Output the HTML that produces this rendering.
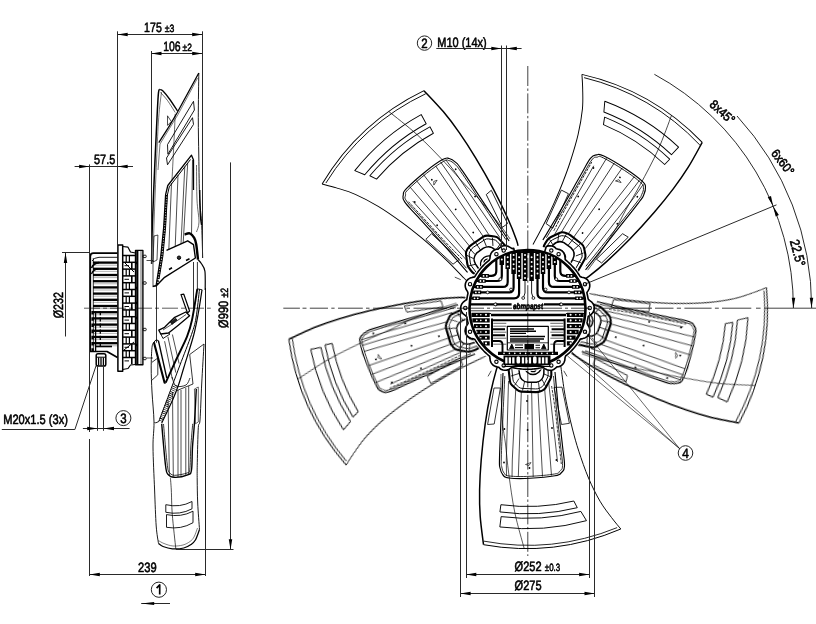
<!DOCTYPE html>
<html><head><meta charset="utf-8"><title>Fan drawing</title>
<style>html,body{margin:0;padding:0;background:#fff;overflow:hidden}svg{display:block}
text{font-family:"Liberation Sans",sans-serif;fill:#000;text-rendering:geometricPrecision}</style></head>
<body><svg width="816" height="624" viewBox="0 0 816 624" fill="none" stroke="#000" stroke-linecap="butt" stroke-linejoin="round">
<rect x="0" y="0" width="816" height="624" fill="#fff" stroke="none"/>
<g opacity="0.999">
<defs><g id="blade"><path d="M499.30 362.50 C498.82 363.68 497.82 364.68 496.40 369.60 C494.98 374.52 492.67 382.93 490.80 392.00 C488.93 401.07 486.80 412.67 485.20 424.00 C483.60 435.33 482.13 449.00 481.20 460.00 C480.27 471.00 479.77 480.60 479.60 490.00 C479.43 499.40 479.55 507.28 480.20 516.40 C480.85 525.52 482.95 539.98 483.50 544.70" stroke-width="1.5" />
<path d="M483.50 544.70 A240.5 240.5 0 0 0 620.80 529.00" stroke-width="1.0" />
<path d="M620.80 529.00 C619.25 527.08 614.97 522.13 611.50 517.50 C608.03 512.87 603.83 507.78 600.00 501.20 C596.17 494.62 592.03 486.33 588.50 478.00 C584.97 469.67 581.43 459.20 578.80 451.20 C576.17 443.20 574.50 436.87 572.70 430.00 C570.90 423.13 569.37 416.33 568.00 410.00 C566.63 403.67 565.62 398.73 564.50 392.00 C563.38 385.27 561.98 374.52 561.30 369.60 C560.62 364.68 560.55 363.68 560.40 362.50" stroke-width="0.95" />
<path d="M483.87 541.15 A237.20 237.20 0 0 0 617.12 527.62" stroke-width="0.85" />
<path d="M503.00 373.00 C502.60 382.40 501.70 403.00 501.00 420.00 C500.30 437.00 499.70 448.40 499.50 458.00 C499.30 467.60 499.30 464.60 500.00 468.00 C500.70 471.40 501.20 473.00 503.00 475.00 C504.80 477.00 503.60 477.34 509.00 478.00 C514.40 478.66 520.80 478.74 530.00 478.30 C539.20 477.86 548.70 476.96 555.00 475.80 C561.30 474.64 559.60 474.46 561.50 472.50 C563.40 470.54 564.30 471.30 564.50 466.00 C564.70 460.70 563.70 457.20 562.50 446.00 C561.30 434.80 560.00 424.80 558.50 410.00 C557.00 395.20 555.70 379.60 555.00 372.00" stroke-width="1.15" />
<path d="M504.80 376.00 C504.40 384.80 503.50 403.60 502.80 420.00 C502.10 436.40 501.50 448.60 501.30 458.00 C501.10 467.40 501.20 463.94 501.80 467.00 C502.40 470.06 502.76 471.50 504.30 473.30 C505.84 475.10 504.36 475.40 509.50 476.00 C514.64 476.60 521.00 476.70 530.00 476.30 C539.00 475.90 548.54 475.06 554.50 474.00 C560.46 472.94 558.20 472.70 559.80 471.00 C561.40 469.30 562.34 470.50 562.50 465.50 C562.66 460.50 561.78 457.10 560.60 446.00 C559.42 434.90 558.02 424.00 556.60 410.00 C555.18 396.00 554.12 382.80 553.50 376.00" stroke-width="0.8" />
<path d="M551.60 386.00 C552.20 390.00 553.92 400.00 555.20 410.00 C556.48 420.00 558.28 437.00 559.30 446.00 C560.32 455.00 560.97 461.00 561.30 464.00" stroke-width="0.8" stroke-dasharray="3 1"/>
<path d="M508.50 381.00 L506.30 460.00 L506.50 476.00" stroke-width="0.7" />
<path d="M515.70 390.00 L512.30 460.00 L512.00 477.00" stroke-width="0.7" />
<path d="M521.30 392.00 L518.30 477.00" stroke-width="0.7" />
<path d="M531.70 392.00 L533.20 477.00" stroke-width="0.7" />
<path d="M538.00 391.00 L542.50 476.50" stroke-width="0.7" />
<path d="M544.50 387.00 L551.50 475.50" stroke-width="0.7" />
<path d="M548.50 381.00 L557.50 462.00" stroke-width="0.7" />
<circle cx="504.0" cy="462.5" r="0.9" fill="#000" stroke="none"/>
<circle cx="556.4" cy="460.0" r="0.9" fill="#000" stroke="none"/>
<circle cx="527.6" cy="430.0" r="0.9" fill="#000" stroke="none"/>
<circle cx="552.0" cy="428.0" r="0.9" fill="#000" stroke="none"/>
<circle cx="527.0" cy="401.0" r="0.9" fill="#000" stroke="none"/>
<circle cx="504.4" cy="429.0" r="0.9" fill="#000" stroke="none"/>
<circle cx="529.5" cy="468.0" r="0.9" fill="#000" stroke="none"/>
<path d="M525.5 464.5 L531 462.5 L529 465.5 Z" stroke-width="0.6" />
<path d="M500.90 504.71 A198.50 198.50 0 0 0 573.84 501.02 L577.29 507.69 A205.80 205.80 0 0 1 499.93 511.94 Z" stroke-width="0.95" />
<path d="M501.14 516.64 A210.30 210.30 0 0 0 580.87 511.42 L586.48 520.67 A220.70 220.70 0 0 1 499.84 526.96 Z" stroke-width="0.95" />
<path d="M501.00 374.00 C501.00 376.83 500.73 382.83 501.00 391.00 C501.27 399.17 501.85 414.17 502.60 423.00 C503.35 431.83 504.47 435.50 505.50 444.00 C506.53 452.50 507.25 462.58 508.80 474.00 C510.35 485.42 512.23 500.08 514.80 512.50 C517.37 524.92 522.63 542.50 524.20 548.50" stroke-width="0.65" />
<path d="M494.00 388.00 L500.40 388.00 L494.20 424.00 L487.60 424.50 L494.00 388.00" stroke-width="0.8" />
<path d="M554.00 387.40 L562.00 387.20 L569.40 423.30 L561.50 424.50 L554.00 387.40" stroke-width="0.8" />
<path d="M507.60 362.00 L507.90 364.00 Q508.20 366.00 508.48 368.48 L509.92 381.02 Q510.20 383.50 512.03 385.20 L516.97 389.80 Q518.80 391.50 521.30 391.59 L535.70 392.11 Q538.20 392.20 540.53 391.29 L542.27 390.61 Q544.60 389.70 545.78 387.50 L550.22 379.20 Q551.40 377.00 551.34 374.50 L551.26 371.30 Q551.20 368.80 550.14 366.54 L548.00 362.00" stroke-width="2.1" fill="#fff"/>
<path d="M511.50 366.00 L512.99 379.81 Q513.20 381.80 514.65 383.18 L518.55 386.92 Q520.00 388.30 522.00 388.38 L535.50 388.92 Q537.50 389.00 539.34 388.21 L540.76 387.59 Q542.60 386.80 543.54 385.04 L547.26 378.06 Q548.20 376.30 548.16 374.30 L548.00 366.00" stroke-width="0.9" />
<path d="M518.5 366 L519.5 374 Q520.5 381.5 528 382.3 L536.5 382.3 Q543 381 543.8 374 L544 366" stroke-width="1.5" />
<path d="M524.5 366 A8.5 8.5 0 0 0 541.5 366" stroke-width="1.3" />
<circle cx="533.2" cy="369" r="2.7" stroke-width="1.3"/>
<path d="M514.5 385.5 L519 378.5 M522.5 390.5 L524.5 382 M531 391.5 L531.5 382.5 M539.5 391 L538.5 382.3 M546 387 L542 379.5 M550 376.5 L544 374 M511 376 L519 373.5" stroke-width="0.8" /></g></defs>
<use href="#blade" transform="rotate(0 527.5 308.0)"/>
<use href="#blade" transform="rotate(-72 527.5 308.0)"/>
<use href="#blade" transform="rotate(-144 527.5 308.0)"/>
<use href="#blade" transform="rotate(-216 527.5 308.0)"/>
<use href="#blade" transform="rotate(-288 527.5 308.0)"/>
<circle cx="527.5" cy="308.0" r="63" fill="#fff" stroke="none"/>
<path d="M544.46 252.53 L546.29 246.54 L548.29 245.88 L550.18 245.69 L551.95 245.92 L553.59 246.53 L555.07 247.50 L556.35 248.84 L558.12 249.19 L559.85 249.64 L561.39 250.46 L562.73 251.62 L563.83 253.11 L564.63 254.97 L565.04 257.27 L565.24 259.69 L566.49 260.70 L567.72 261.74 L568.91 262.80 L570.08 263.90 L571.22 265.03 L572.33 266.19 L573.41 267.38 L574.46 268.60 L575.47 269.84 L576.46 271.11 L577.41 272.40 L578.32 273.72 L579.20 275.06 L580.04 276.43 L581.78 277.29 L584.24 277.83 L586.13 278.77 L587.59 279.98 L588.69 281.39 L589.42 282.98 L589.77 284.72 L589.73 286.57 L589.24 288.53 L588.16 290.61 L586.85 292.65 L587.23 294.21 L587.57 295.78 L587.87 297.36 L588.13 298.94 L589.40 300.40 L591.47 301.84 L592.85 303.43 L593.74 305.11 L594.21 306.84 L594.28 308.58 L593.94 310.32 L593.20 312.02 L591.99 313.64 L590.20 315.14 L588.20 316.53 L587.96 318.12 L587.67 319.70 L587.35 321.27 L586.98 322.83 L587.60 324.67 L588.96 326.79 L589.62 328.79 L589.81 330.68 L589.58 332.45 L588.97 334.09 L588.00 335.57 L586.66 336.85 L584.92 337.89 L582.70 338.60 L580.32 339.11 L579.49 340.48 L578.62 341.83 L577.71 343.16 L576.78 344.46 L575.81 345.74 L574.80 346.99 L573.76 348.22 L572.70 349.41 L571.60 350.58 L570.47 351.72 L569.31 352.83 L568.12 353.91 L566.90 354.96 L565.66 355.97 L565.03 357.81 L564.82 360.32 L564.13 362.31 L563.13 363.92 L561.86 365.19 L560.38 366.12 L558.71 366.70 L556.87 366.90 L555.52 368.09 L554.11 369.19 L552.52 369.92 L550.78 370.27 L548.93 370.23 L546.97 369.74 L544.89 368.66 L542.85 367.35 L541.29 367.73 L539.72 368.07 L538.14 368.37 L536.56 368.63 L534.97 368.84 L533.38 369.02 L531.78 369.15 L530.17 369.24 L528.57 369.29 L526.97 369.30 L525.36 369.26 L523.76 369.19 L522.16 369.07 L520.56 368.91 L518.97 368.70 L517.38 368.46 L515.80 368.17 L514.23 367.85 L512.67 367.48 L510.83 368.10 L508.71 369.46 L506.71 370.12 L504.82 370.31 L503.05 370.08 L501.41 369.47 L499.93 368.50 L498.65 367.16 L496.88 366.81 L495.15 366.36 L493.61 365.54 L492.27 364.38 L491.17 362.89 L490.37 361.03 L489.96 358.73 L489.76 356.31 L488.51 355.30 L487.28 354.26 L486.09 353.20 L484.92 352.10 L483.78 350.97 L482.67 349.81 L481.59 348.62 L480.54 347.40 L479.53 346.16 L478.54 344.89 L477.59 343.60 L476.68 342.28 L475.80 340.94 L474.96 339.57 L473.22 338.71 L470.76 338.17 L468.87 337.23 L467.41 336.02 L466.31 334.61 L465.58 333.02 L465.23 331.28 L465.27 329.43 L465.76 327.47 L466.84 325.39 L468.15 323.35 L467.77 321.79 L467.43 320.22 L467.13 318.64 L466.87 317.06 L465.60 315.60 L463.53 314.16 L462.15 312.57 L461.26 310.89 L460.79 309.16 L460.72 307.42 L461.06 305.68 L461.80 303.98 L463.01 302.36 L464.80 300.86 L466.80 299.47 L467.04 297.88 L467.33 296.30 L467.65 294.73 L468.02 293.17 L467.40 291.33 L466.04 289.21 L465.38 287.21 L465.19 285.32 L465.42 283.55 L466.03 281.91 L467.00 280.43 L468.34 279.15 L470.08 278.11 L472.30 277.40 L474.68 276.89 L475.51 275.52 L476.38 274.17 L477.29 272.84 L478.22 271.54 L479.19 270.26 L480.20 269.01 L481.24 267.78 L482.30 266.59 L483.40 265.42 L484.53 264.28 L485.69 263.17 L486.88 262.09 L488.10 261.04 L489.34 260.03 L489.97 258.19 L490.18 255.68 L490.87 253.69 L491.87 252.08 L493.14 250.81 L494.62 249.88 L496.29 249.30 L498.13 249.10 L499.48 247.91 L500.89 246.81 L502.48 246.08 L504.22 245.73 L506.07 245.77 L508.03 246.26 L510.11 247.34 L512.15 248.65 L513.71 248.27 L514.45 251.49" stroke-width="1.6" fill="#fff"/>
<circle cx="584.97" cy="284.20" r="1.7" stroke-width="1.1"/>
<circle cx="551.30" cy="250.53" r="1.7" stroke-width="1.1"/>
<circle cx="503.70" cy="250.53" r="1.7" stroke-width="1.1"/>
<circle cx="470.03" cy="284.20" r="1.7" stroke-width="1.1"/>
<circle cx="470.03" cy="331.80" r="1.7" stroke-width="1.1"/>
<circle cx="503.70" cy="365.47" r="1.7" stroke-width="1.1"/>
<circle cx="551.30" cy="365.47" r="1.7" stroke-width="1.1"/>
<circle cx="584.97" cy="331.80" r="1.7" stroke-width="1.1"/>
<circle cx="589.70" cy="308.00" r="1.7" stroke-width="1.1"/>
<circle cx="558.60" cy="254.13" r="1.7" stroke-width="1.1"/>
<circle cx="496.40" cy="254.13" r="1.7" stroke-width="1.1"/>
<circle cx="465.30" cy="308.00" r="1.7" stroke-width="1.1"/>
<circle cx="496.40" cy="361.87" r="1.7" stroke-width="1.1"/>
<circle cx="558.60" cy="361.87" r="1.7" stroke-width="1.1"/>
<circle cx="527.5" cy="308.0" r="58" stroke-width="2.6"/>
<clipPath id="hubclip"><circle cx="527.5" cy="308.0" r="57.3"/></clipPath>
<g clip-path="url(#hubclip)">
<path d="M537.50 245 L537.50 293.30 Q537.50 298.30 542.50 298.30 L588.30 298.30" stroke-width="2.2" />
<path d="M582.67 298.30 L575.17 298.30" stroke-width="3.6" />
<circle cx="580.47" cy="298.30" r="0.9" fill="#fff" stroke="none"/>
<circle cx="577.27" cy="298.30" r="0.9" fill="#fff" stroke="none"/>
<path d="M543.00 245 L543.00 287.40 Q543.00 292.40 548.00 292.40 L588.30 292.40" stroke-width="2.2" />
<path d="M581.32 292.40 L573.82 292.40" stroke-width="3.6" />
<circle cx="579.12" cy="292.40" r="0.9" fill="#fff" stroke="none"/>
<circle cx="575.92" cy="292.40" r="0.9" fill="#fff" stroke="none"/>
<path d="M548.90 245 L548.90 281.90 Q548.90 286.90 553.90 286.90 L588.30 286.90" stroke-width="2.2" />
<path d="M579.45 286.90 L571.95 286.90" stroke-width="3.6" />
<circle cx="577.25" cy="286.90" r="0.9" fill="#fff" stroke="none"/>
<circle cx="574.05" cy="286.90" r="0.9" fill="#fff" stroke="none"/>
<path d="M554.80 245 L554.80 276.00 Q554.80 281.00 559.80 281.00 L588.30 281.00" stroke-width="2.2" />
<path d="M576.70 281.00 L569.20 281.00" stroke-width="3.6" />
<circle cx="574.50" cy="281.00" r="0.9" fill="#fff" stroke="none"/>
<circle cx="571.30" cy="281.00" r="0.9" fill="#fff" stroke="none"/>
<path d="M560.30 245 L560.30 270.90 Q560.30 275.90 565.30 275.90 L588.30 275.90" stroke-width="2.2" />
<path d="M573.60 275.90 L566.10 275.90" stroke-width="3.6" />
<circle cx="571.40" cy="275.90" r="0.9" fill="#fff" stroke="none"/>
<circle cx="568.20" cy="275.90" r="0.9" fill="#fff" stroke="none"/>
<path d="M531.60 279 L531.60 293 L533.10 297.5" stroke-width="0.9" />
<circle cx="533.40" cy="298" r="1.4" fill="#fff" stroke-width="0.8"/>
<path d="M519.10 245 L519.10 293.30 Q519.10 298.30 514.10 298.30 L468.30 298.30" stroke-width="2.2" />
<path d="M472.33 298.30 L479.83 298.30" stroke-width="3.6" />
<circle cx="474.53" cy="298.30" r="0.9" fill="#fff" stroke="none"/>
<circle cx="477.73" cy="298.30" r="0.9" fill="#fff" stroke="none"/>
<path d="M513.60 245 L513.60 287.40 Q513.60 292.40 508.60 292.40 L468.30 292.40" stroke-width="2.2" />
<path d="M473.68 292.40 L481.18 292.40" stroke-width="3.6" />
<circle cx="475.88" cy="292.40" r="0.9" fill="#fff" stroke="none"/>
<circle cx="479.08" cy="292.40" r="0.9" fill="#fff" stroke="none"/>
<path d="M507.70 245 L507.70 281.90 Q507.70 286.90 502.70 286.90 L468.30 286.90" stroke-width="2.2" />
<path d="M475.55 286.90 L483.05 286.90" stroke-width="3.6" />
<circle cx="477.75" cy="286.90" r="0.9" fill="#fff" stroke="none"/>
<circle cx="480.95" cy="286.90" r="0.9" fill="#fff" stroke="none"/>
<path d="M501.80 245 L501.80 276.00 Q501.80 281.00 496.80 281.00 L468.30 281.00" stroke-width="2.2" />
<path d="M478.30 281.00 L485.80 281.00" stroke-width="3.6" />
<circle cx="480.50" cy="281.00" r="0.9" fill="#fff" stroke="none"/>
<circle cx="483.70" cy="281.00" r="0.9" fill="#fff" stroke="none"/>
<path d="M496.30 245 L496.30 270.90 Q496.30 275.90 491.30 275.90 L468.30 275.90" stroke-width="2.2" />
<path d="M481.40 275.90 L488.90 275.90" stroke-width="3.6" />
<circle cx="483.60" cy="275.90" r="0.9" fill="#fff" stroke="none"/>
<circle cx="486.80" cy="275.90" r="0.9" fill="#fff" stroke="none"/>
<path d="M525.00 279 L525.00 293 L523.50 297.5" stroke-width="0.9" />
<circle cx="523.20" cy="298" r="1.4" fill="#fff" stroke-width="0.8"/>
<path d="M501.80 245 L501.80 265.0" stroke-width="4.5" />
<circle cx="501.80" cy="255.00" r="1.0" fill="#fff" stroke="none"/>
<circle cx="501.80" cy="259.60" r="1.0" fill="#fff" stroke="none"/>
<path d="M507.70 245 L507.70 269.0" stroke-width="4.5" />
<circle cx="507.70" cy="257.30" r="1.0" fill="#fff" stroke="none"/>
<circle cx="507.70" cy="261.90" r="1.0" fill="#fff" stroke="none"/>
<circle cx="507.70" cy="266.50" r="1.0" fill="#fff" stroke="none"/>
<path d="M513.60 245 L513.60 274.0" stroke-width="4.5" />
<circle cx="513.60" cy="255.00" r="1.0" fill="#fff" stroke="none"/>
<circle cx="513.60" cy="259.60" r="1.0" fill="#fff" stroke="none"/>
<circle cx="513.60" cy="264.20" r="1.0" fill="#fff" stroke="none"/>
<circle cx="513.60" cy="268.80" r="1.0" fill="#fff" stroke="none"/>
<path d="M519.10 245 L519.10 279.0" stroke-width="4.5" />
<circle cx="519.10" cy="257.30" r="1.0" fill="#fff" stroke="none"/>
<circle cx="519.10" cy="261.90" r="1.0" fill="#fff" stroke="none"/>
<circle cx="519.10" cy="266.50" r="1.0" fill="#fff" stroke="none"/>
<circle cx="519.10" cy="271.10" r="1.0" fill="#fff" stroke="none"/>
<circle cx="519.10" cy="275.70" r="1.0" fill="#fff" stroke="none"/>
<path d="M525.00 245 L525.00 281.0" stroke-width="4.5" />
<circle cx="525.00" cy="255.00" r="1.0" fill="#fff" stroke="none"/>
<circle cx="525.00" cy="259.60" r="1.0" fill="#fff" stroke="none"/>
<circle cx="525.00" cy="264.20" r="1.0" fill="#fff" stroke="none"/>
<circle cx="525.00" cy="268.80" r="1.0" fill="#fff" stroke="none"/>
<circle cx="525.00" cy="273.40" r="1.0" fill="#fff" stroke="none"/>
<circle cx="525.00" cy="278.00" r="1.0" fill="#fff" stroke="none"/>
<path d="M531.60 245 L531.60 281.0" stroke-width="4.5" />
<circle cx="531.60" cy="257.30" r="1.0" fill="#fff" stroke="none"/>
<circle cx="531.60" cy="261.90" r="1.0" fill="#fff" stroke="none"/>
<circle cx="531.60" cy="266.50" r="1.0" fill="#fff" stroke="none"/>
<circle cx="531.60" cy="271.10" r="1.0" fill="#fff" stroke="none"/>
<circle cx="531.60" cy="275.70" r="1.0" fill="#fff" stroke="none"/>
<path d="M537.50 245 L537.50 279.0" stroke-width="4.5" />
<circle cx="537.50" cy="255.00" r="1.0" fill="#fff" stroke="none"/>
<circle cx="537.50" cy="259.60" r="1.0" fill="#fff" stroke="none"/>
<circle cx="537.50" cy="264.20" r="1.0" fill="#fff" stroke="none"/>
<circle cx="537.50" cy="268.80" r="1.0" fill="#fff" stroke="none"/>
<circle cx="537.50" cy="273.40" r="1.0" fill="#fff" stroke="none"/>
<path d="M543.00 245 L543.00 274.0" stroke-width="4.5" />
<circle cx="543.00" cy="257.30" r="1.0" fill="#fff" stroke="none"/>
<circle cx="543.00" cy="261.90" r="1.0" fill="#fff" stroke="none"/>
<circle cx="543.00" cy="266.50" r="1.0" fill="#fff" stroke="none"/>
<circle cx="543.00" cy="271.10" r="1.0" fill="#fff" stroke="none"/>
<path d="M548.90 245 L548.90 269.0" stroke-width="4.5" />
<circle cx="548.90" cy="255.00" r="1.0" fill="#fff" stroke="none"/>
<circle cx="548.90" cy="259.60" r="1.0" fill="#fff" stroke="none"/>
<circle cx="548.90" cy="264.20" r="1.0" fill="#fff" stroke="none"/>
<path d="M554.80 245 L554.80 265.0" stroke-width="4.5" />
<circle cx="554.80" cy="257.30" r="1.0" fill="#fff" stroke="none"/>
<circle cx="554.80" cy="261.90" r="1.0" fill="#fff" stroke="none"/>
<path d="M500.30 251.5 L556.30 251.5" stroke-width="3.0" />
<circle cx="556.30" cy="279.20" r="1.4" fill="#fff" stroke-width="0.8"/>
<circle cx="545.60" cy="289.50" r="1.4" fill="#fff" stroke-width="0.8"/>
<circle cx="569.00" cy="292.40" r="1.4" fill="#fff" stroke-width="0.8"/>
<circle cx="560.70" cy="304.40" r="1.4" fill="#fff" stroke-width="0.8"/>
<circle cx="500.30" cy="279.20" r="1.4" fill="#fff" stroke-width="0.8"/>
<circle cx="511.00" cy="289.50" r="1.4" fill="#fff" stroke-width="0.8"/>
<circle cx="487.60" cy="292.40" r="1.4" fill="#fff" stroke-width="0.8"/>
<circle cx="495.90" cy="304.40" r="1.4" fill="#fff" stroke-width="0.8"/>
<path d="M470 304.4 L511.6 304.4 M544 304.4 L586 304.4" stroke-width="2.2" />
<circle cx="561.30" cy="304.4" r="1.4" fill="#fff" stroke-width="0.8"/>
<circle cx="495.30" cy="304.4" r="1.4" fill="#fff" stroke-width="0.8"/>
<text x="528" y="309.4" font-size="8.2" font-weight="bold" font-style="italic" text-anchor="middle" stroke="#000" stroke-width="0.7" textLength="30" lengthAdjust="spacingAndGlyphs">ebmpapst</text>
<path d="M470 310.8 L586 310.8" stroke-width="0.8" />
<path d="M491 315 L566 315" stroke-width="2.6" />
<path d="M472 313.6 L491 313.6 M566 313.6 L584 313.6" stroke-width="1.0" />
<path d="M492 320.3 L565 320.3" stroke-width="2.0" />
<path d="M564.60 318.5 L564.60 347" stroke-width="2.0" />
<path d="M564.60 329.2 L551.60 329.2 M564.60 335.3 L551.60 335.3" stroke-width="1.9" />
<path d="M564.60 341 L557.60 341 Q554.10 341 554.10 345 L554.10 352" stroke-width="1.9" />
<path d="M566.90 314.80 L583.59 314.80" stroke-width="4.3" />
<circle cx="570.60" cy="314.80" r="1.05" fill="#fff" stroke="none"/>
<circle cx="575.80" cy="314.80" r="0.8" fill="#fff" stroke="none"/>
<circle cx="579.80" cy="314.80" r="0.8" fill="#fff" stroke="none"/>
<path d="M566.90 320.40 L582.63 320.40" stroke-width="4.3" />
<circle cx="570.60" cy="320.40" r="1.05" fill="#fff" stroke="none"/>
<circle cx="575.80" cy="320.40" r="0.8" fill="#fff" stroke="none"/>
<circle cx="579.80" cy="320.40" r="0.8" fill="#fff" stroke="none"/>
<path d="M566.90 326.20 L581.02 326.20" stroke-width="4.3" />
<circle cx="570.60" cy="326.20" r="1.05" fill="#fff" stroke="none"/>
<circle cx="575.80" cy="326.20" r="0.8" fill="#fff" stroke="none"/>
<circle cx="579.80" cy="326.20" r="0.8" fill="#fff" stroke="none"/>
<path d="M566.90 332.00 L578.70 332.00" stroke-width="4.3" />
<circle cx="570.60" cy="332.00" r="1.05" fill="#fff" stroke="none"/>
<circle cx="575.80" cy="332.00" r="0.8" fill="#fff" stroke="none"/>
<path d="M566.90 337.70 L575.65 337.70" stroke-width="4.3" />
<circle cx="570.60" cy="337.70" r="1.05" fill="#fff" stroke="none"/>
<path d="M566.90 343.40 L571.67 343.40" stroke-width="4.3" />
<circle cx="570.60" cy="343.40" r="1.05" fill="#fff" stroke="none"/>
<path d="M492.00 318.5 L492.00 347" stroke-width="2.0" />
<path d="M492.00 329.2 L505.00 329.2 M492.00 335.3 L505.00 335.3" stroke-width="1.9" />
<path d="M492.00 341 L499.00 341 Q502.50 341 502.50 345 L502.50 352" stroke-width="1.9" />
<path d="M489.70 314.80 L471.41 314.80" stroke-width="4.3" />
<circle cx="486.00" cy="314.80" r="1.05" fill="#fff" stroke="none"/>
<circle cx="480.80" cy="314.80" r="0.8" fill="#fff" stroke="none"/>
<circle cx="476.80" cy="314.80" r="0.8" fill="#fff" stroke="none"/>
<path d="M489.70 320.40 L472.37 320.40" stroke-width="4.3" />
<circle cx="486.00" cy="320.40" r="1.05" fill="#fff" stroke="none"/>
<circle cx="480.80" cy="320.40" r="0.8" fill="#fff" stroke="none"/>
<circle cx="476.80" cy="320.40" r="0.8" fill="#fff" stroke="none"/>
<path d="M489.70 326.20 L473.98 326.20" stroke-width="4.3" />
<circle cx="486.00" cy="326.20" r="1.05" fill="#fff" stroke="none"/>
<circle cx="480.80" cy="326.20" r="0.8" fill="#fff" stroke="none"/>
<circle cx="476.80" cy="326.20" r="0.8" fill="#fff" stroke="none"/>
<path d="M489.70 332.00 L476.30 332.00" stroke-width="4.3" />
<circle cx="486.00" cy="332.00" r="1.05" fill="#fff" stroke="none"/>
<circle cx="480.80" cy="332.00" r="0.8" fill="#fff" stroke="none"/>
<circle cx="476.80" cy="332.00" r="0.8" fill="#fff" stroke="none"/>
<path d="M489.70 337.70 L479.35 337.70" stroke-width="4.3" />
<circle cx="486.00" cy="337.70" r="1.05" fill="#fff" stroke="none"/>
<circle cx="480.80" cy="337.70" r="0.8" fill="#fff" stroke="none"/>
<path d="M489.70 343.40 L483.33 343.40" stroke-width="4.3" />
<circle cx="486.00" cy="343.40" r="1.05" fill="#fff" stroke="none"/>
<path d="M563.30 323.30 L550.30 323.30" stroke-width="0.6" />
<path d="M563.30 326.20 L550.30 326.20" stroke-width="0.6" />
<path d="M563.30 332.20 L550.30 332.20" stroke-width="0.6" />
<path d="M563.30 338.20 L550.30 338.20" stroke-width="0.6" />
<path d="M563.30 344.20 L550.30 344.20" stroke-width="0.6" />
<path d="M493.30 323.30 L506.30 323.30" stroke-width="0.6" />
<path d="M493.30 326.20 L506.30 326.20" stroke-width="0.6" />
<path d="M493.30 332.20 L506.30 332.20" stroke-width="0.6" />
<path d="M493.30 338.20 L506.30 338.20" stroke-width="0.6" />
<path d="M493.30 344.20 L506.30 344.20" stroke-width="0.6" />
<rect x="507.3" y="326.4" width="41" height="23.6" fill="#fff" stroke-width="1.2"/>
<path d="M510 329.0 L534 329.0 M510 331.3 L536 331.3 M510 333.4 L526 333.4" stroke-width="1.4" />
<path d="M510 336.6 L545 336.6 M510 338.9 L544 338.9 M510 341.0 L540 341.0" stroke-width="1.5" />
<path d="M507.3 342.8 L548.3 342.8" stroke-width="0.8" />
<rect x="524.5" y="344" width="9.5" height="5.2" fill="#000" stroke="none"/>
<path d="M509.5 348.8 L511.8 344 L514 348.8 Z M541.5 348.8 L543.8 344 L546 348.8 Z" stroke-width="0.8" fill="#000"/>
<path d="M515 345 L523 345 M515 347.6 L523 347.6 M535.5 345.2 L540 345.2 M535.5 347.8 L540 347.8" stroke-width="1.1" />
<path d="M498 353.4 L558 353.4" stroke-width="3.2" />
<circle cx="504.00" cy="353.4" r="0.8" fill="#fff" stroke="none"/>
<circle cx="509.40" cy="353.4" r="0.8" fill="#fff" stroke="none"/>
<circle cx="514.80" cy="353.4" r="0.8" fill="#fff" stroke="none"/>
<circle cx="520.20" cy="353.4" r="0.8" fill="#fff" stroke="none"/>
<circle cx="525.60" cy="353.4" r="0.8" fill="#fff" stroke="none"/>
<circle cx="531.00" cy="353.4" r="0.8" fill="#fff" stroke="none"/>
<circle cx="536.40" cy="353.4" r="0.8" fill="#fff" stroke="none"/>
<circle cx="541.80" cy="353.4" r="0.8" fill="#fff" stroke="none"/>
<circle cx="547.20" cy="353.4" r="0.8" fill="#fff" stroke="none"/>
<circle cx="552.60" cy="353.4" r="0.8" fill="#fff" stroke="none"/>
</g>
<rect x="503.5" y="355.5" width="47" height="9.5" fill="#000" stroke="none"/>
<rect x="505.20" y="357.3" width="2.3" height="6.2" fill="#fff" stroke="none"/>
<rect x="508.70" y="357.3" width="2.3" height="6.2" fill="#fff" stroke="none"/>
<rect x="512.20" y="357.3" width="2.3" height="6.2" fill="#fff" stroke="none"/>
<rect x="516.50" y="356.5" width="3.6" height="7" rx="1.5" fill="#fff" stroke="none"/>
<rect x="521.80" y="357.3" width="2.3" height="6.2" fill="#fff" stroke="none"/>
<rect x="525.30" y="357.3" width="2.3" height="6.2" fill="#fff" stroke="none"/>
<rect x="528.80" y="357.3" width="2.3" height="6.2" fill="#fff" stroke="none"/>
<rect x="533.00" y="356.5" width="3.6" height="7" rx="1.5" fill="#fff" stroke="none"/>
<rect x="538.40" y="357.3" width="2.3" height="6.2" fill="#fff" stroke="none"/>
<rect x="541.90" y="357.3" width="2.3" height="6.2" fill="#fff" stroke="none"/>
<rect x="545.40" y="357.3" width="2.3" height="6.2" fill="#fff" stroke="none"/>
<path d="M503.5 366.3 L550.5 366.3" stroke-width="1.2" />
<path d="M460.76 279.67 L454.78 277.13" stroke-width="0.7" />
<path d="M491.25 370.79 L488.00 376.42" stroke-width="0.7" />
<path d="M563.75 370.79 L567.00 376.42" stroke-width="0.7" />
<path d="M283.3 308.2 L299.9 308.2 M302.5 308.2 L306.5 308.2 M309.8 308.2 L328.0 308.2 M331.3 308.2 L334.6 308.2 M338.0 308.2 L362.8 308.2 M366.0 308.2 L369.5 308.2 M373.0 308.2 L403.0 308.2 M406.5 308.2 L410.0 308.2 M413.5 308.2 L447.0 308.2 M450.0 308.2 L454.0 308.2 M457.0 308.2 L470.0 308.2 M470.0 308.2 L484.0 308.2 M487.0 308.2 L490.0 308.2 M493.0 308.2 L512.0 308.2 M543.0 308.2 L562.0 308.2 M565.0 308.2 L568.0 308.2 M571.0 308.2 L590.0 308.2 M593.0 308.2 L597.0 308.2 M600.0 308.2 L652.0 308.2 M655.0 308.2 L673.5 308.2 M676.8 308.2 L681.0 308.2 M684.4 308.2 L711.6 308.2 M714.9 308.2 L718.8 308.2 M722.0 308.2 L751.3 308.2 M756.0 308.2 L760.6 308.2 M764.5 308.2 L816.0 308.2" stroke-width="0.75" />
<path d="M527.8 66 L527.8 556" stroke-width="0.75" stroke-dasharray="20 2.5 2.4 2.5"/>
<path d="M466.50 312.00 L466.50 578.00 M589.50 312.00 L589.50 578.00" stroke-width="1.0" stroke="#2a2a2a" />
<path d="M460.50 310.00 L460.50 597.00 M594.50 310.00 L594.50 597.00" stroke-width="1.0" stroke="#2a2a2a" />
<path d="M466.00 574.50 L589.40 574.50" stroke-width="1.0" stroke="#2a2a2a" />
<path d="M460.30 593.50 L594.80 593.50" stroke-width="1.0" stroke="#2a2a2a" />
<path d="M466.00 574.50 L476.30 572.75 L476.30 576.25 Z" fill="#000" stroke="none"/>
<path d="M589.40 574.50 L579.10 576.25 L579.10 572.75 Z" fill="#000" stroke="none"/>
<path d="M460.30 593.50 L470.60 591.75 L470.60 595.25 Z" fill="#000" stroke="none"/>
<path d="M594.80 593.50 L584.50 595.25 L584.50 591.75 Z" fill="#000" stroke="none"/>
<text x="514.60" y="571.00" font-size="13.5" text-anchor="start" font-weight="normal" stroke="#000" stroke-width="0.6" textLength="27.0" lengthAdjust="spacingAndGlyphs">&#216;252</text>
<text x="544.80" y="571.00" font-size="10.6" text-anchor="start" font-weight="normal" stroke="#000" stroke-width="0.55" textLength="15.4" lengthAdjust="spacingAndGlyphs">&#177;0.3</text>
<text x="514.60" y="590.40" font-size="13.5" text-anchor="start" font-weight="normal" stroke="#000" stroke-width="0.6" textLength="27.0" lengthAdjust="spacingAndGlyphs">&#216;275</text>
<circle cx="424.5" cy="43.1" r="7.2" stroke-width="1.0" stroke="#222"/>
<text x="424.50" y="47.90" font-size="13.5" text-anchor="middle" font-weight="normal" stroke="#000" stroke-width="0.55" textLength="6.4" lengthAdjust="spacingAndGlyphs">2</text>
<text x="437.30" y="46.50" font-size="13.5" text-anchor="start" font-weight="normal" stroke="#000" stroke-width="0.6" textLength="49.4" lengthAdjust="spacingAndGlyphs">M10 (14x)</text>
<path d="M436.30 48.50 L521.60 48.50" stroke-width="1.0" stroke="#2a2a2a" />
<path d="M501.50 45.50 L501.50 250.00 M506.50 45.50 L506.50 250.00" stroke-width="1.0" stroke="#2a2a2a" />
<path d="M501.60 48.50 L491.30 50.25 L491.30 46.75 Z" fill="#000" stroke="none"/>
<path d="M506.50 48.50 L516.80 46.75 L516.80 50.25 Z" fill="#000" stroke="none"/>
<path d="M793.40 308.00 A265.90 265.90 0 0 0 654.38 74.32" stroke-width="0.85" />
<path d="M811.70 308.00 A284.20 284.20 0 0 0 737.03 116.00" stroke-width="0.85" />
<path d="M793.50 308.00 L791.75 297.70 L795.25 297.70 Z" fill="#000" stroke="none"/>
<path d="M811.50 308.00 L809.75 297.70 L813.25 297.70 Z" fill="#000" stroke="none"/>
<path d="M584.78 284.27 L776.49 204.87" stroke-width="0.85" />
<path d="M773.16 206.24 L767.76 197.30 L771.01 196.02 Z" fill="#000" stroke="none"/>
<path d="M773.16 206.24 L778.87 214.99 L775.66 216.39 Z" fill="#000" stroke="none"/>
<text x="719.60" y="115.20" font-size="12.6" text-anchor="middle" font-weight="normal" stroke="#000" stroke-width="0.6" textLength="29.0" lengthAdjust="spacingAndGlyphs" transform="rotate(41.5 719.60 115.20)">8x45&#176;</text>
<text x="779.30" y="164.90" font-size="12.6" text-anchor="middle" font-weight="normal" stroke="#000" stroke-width="0.6" textLength="29.0" lengthAdjust="spacingAndGlyphs" transform="rotate(52 779.30 164.90)">6x60&#176;</text>
<text x="793.30" y="254.10" font-size="13.5" text-anchor="middle" font-weight="normal" stroke="#000" stroke-width="0.6" textLength="27.0" lengthAdjust="spacingAndGlyphs" transform="rotate(75 793.30 254.10)">22.5&#176;</text>
<circle cx="685.5" cy="453" r="7.3" stroke-width="1.0" stroke="#222" fill="#fff"/>
<text x="685.50" y="457.80" font-size="13.5" text-anchor="middle" font-weight="normal" stroke="#000" stroke-width="0.55" textLength="6.6" lengthAdjust="spacingAndGlyphs">4</text>
<path d="M679.5 448.5 L585 331.5 M679.5 448.5 L570.5 351 M679.5 448.5 L567.5 356" stroke-width="0.6" />
<path d="M117.5 253.2 L93.5 253.2 Q90.3 253.2 90.3 256.5 L90.3 351.5 L107 351.5 L117.5 357.5" stroke-width="1.7" fill="#fff"/>
<path d="M93.3 258 L93.3 351" stroke-width="0.8" />
<path d="M92 261 Q94 257.5 99 257.3 L117.5 257.3" stroke-width="0.9" />
<path d="M91.5 268 Q93.5 263 99 262.6" stroke-width="1.6" />
<path d="M91.5 274 Q93.5 269.3 98 268.8" stroke-width="1.4" />
<path d="M93.0 262.6 L117.5 262.6" stroke-width="2.3" />
<path d="M93.5 265.2 L117.5 265.2" stroke-width="0.5" opacity="0.6"/>
<path d="M93.0 268.8 L117.5 268.8" stroke-width="2.3" />
<path d="M93.5 271.4 L117.5 271.4" stroke-width="0.5" opacity="0.6"/>
<path d="M93.0 275.0 L117.5 275.0" stroke-width="2.3" />
<path d="M93.5 277.6 L117.5 277.6" stroke-width="0.5" opacity="0.6"/>
<path d="M93.0 281.2 L117.5 281.2" stroke-width="2.3" />
<path d="M93.5 283.8 L117.5 283.8" stroke-width="0.5" opacity="0.6"/>
<path d="M93.0 287.4 L117.5 287.4" stroke-width="2.3" />
<path d="M93.5 290.0 L117.5 290.0" stroke-width="0.5" opacity="0.6"/>
<path d="M93.0 293.6 L117.5 293.6" stroke-width="2.3" />
<path d="M93.5 296.2 L117.5 296.2" stroke-width="0.5" opacity="0.6"/>
<path d="M93.0 299.8 L117.5 299.8" stroke-width="2.3" />
<path d="M93.5 302.4 L117.5 302.4" stroke-width="0.5" opacity="0.6"/>
<path d="M93.0 306.0 L117.5 306.0" stroke-width="2.3" />
<path d="M93.5 308.6 L117.5 308.6" stroke-width="0.5" opacity="0.6"/>
<path d="M93.0 312.2 L117.5 312.2" stroke-width="2.3" />
<path d="M93.5 314.8 L117.5 314.8" stroke-width="0.5" opacity="0.6"/>
<path d="M93.0 318.4 L117.5 318.4" stroke-width="2.3" />
<path d="M93.5 321.0 L117.5 321.0" stroke-width="0.5" opacity="0.6"/>
<path d="M93.0 324.6 L117.5 324.6" stroke-width="2.3" />
<path d="M93.5 327.2 L117.5 327.2" stroke-width="0.5" opacity="0.6"/>
<path d="M93.0 330.8 L117.5 330.8" stroke-width="2.3" />
<path d="M93.5 333.4 L117.5 333.4" stroke-width="0.5" opacity="0.6"/>
<path d="M93.0 337.0 L117.5 337.0" stroke-width="2.3" />
<path d="M93.5 339.6 L117.5 339.6" stroke-width="0.5" opacity="0.6"/>
<path d="M93.0 343.2 L117.5 343.2" stroke-width="2.3" />
<path d="M93.5 345.8 L117.5 345.8" stroke-width="0.5" opacity="0.6"/>
<path d="M92.6 311 L92.6 351" stroke-width="2.4" stroke-dasharray="3.6 2.6"/>
<path d="M95.6 311 L95.6 351" stroke-width="1.3" />
<path d="M100.3 311 L100.3 346" stroke-width="1.3" stroke-dasharray="4.2 2"/>
<path d="M96 346.5 L112 346.5" stroke-width="1.6" />
<rect x="117.9" y="245" width="4.8" height="126.3" stroke-width="1.5" fill="#fff"/>
<path d="M122.70 246.50 L128.00 247.20 L130.50 252.00 L135.40 253.00" stroke-width="1.2" />
<path d="M122.70 369.50 L128.00 368.50 L130.50 365.00 L135.40 364.50" stroke-width="1.2" />
<path d="M122.7 255.5 L135.4 255.5" stroke-width="1.5" />
<path d="M126.2 255.5 L126.2 262.3 M129.4 255.5 L129.4 262.3" stroke-width="1.2" />
<path d="M122.7 262.3 L135.4 262.3" stroke-width="1.5" />
<path d="M131.8 262.3 L131.8 269.1" stroke-width="1.6" />
<path d="M124.5 265.7 L129 265.7" stroke-width="1.0" />
<path d="M122.7 269.1 L135.4 269.1" stroke-width="1.5" />
<path d="M126.2 269.1 L126.2 275.9 M129.4 269.1 L129.4 275.9" stroke-width="1.2" />
<path d="M122.7 275.9 L135.4 275.9" stroke-width="1.5" />
<path d="M131.8 275.9 L131.8 282.7" stroke-width="1.6" />
<path d="M124.5 279.3 L129 279.3" stroke-width="1.0" />
<path d="M122.7 282.7 L135.4 282.7" stroke-width="1.5" />
<path d="M126.2 282.7 L126.2 289.5 M129.4 282.7 L129.4 289.5" stroke-width="1.2" />
<path d="M122.7 289.5 L135.4 289.5" stroke-width="1.5" />
<path d="M131.8 289.5 L131.8 296.3" stroke-width="1.6" />
<path d="M124.5 292.9 L129 292.9" stroke-width="1.0" />
<path d="M122.7 296.3 L135.4 296.3" stroke-width="1.5" />
<path d="M126.2 296.3 L126.2 303.1 M129.4 296.3 L129.4 303.1" stroke-width="1.2" />
<path d="M122.7 303.1 L135.4 303.1" stroke-width="1.5" />
<path d="M131.8 303.1 L131.8 309.9" stroke-width="1.6" />
<path d="M124.5 306.5 L129 306.5" stroke-width="1.0" />
<path d="M122.7 309.9 L135.4 309.9" stroke-width="1.5" />
<path d="M126.2 309.9 L126.2 316.7 M129.4 309.9 L129.4 316.7" stroke-width="1.2" />
<path d="M122.7 316.7 L135.4 316.7" stroke-width="1.5" />
<path d="M131.8 316.7 L131.8 323.5" stroke-width="1.6" />
<path d="M124.5 320.1 L129 320.1" stroke-width="1.0" />
<path d="M122.7 323.5 L135.4 323.5" stroke-width="1.5" />
<path d="M126.2 323.5 L126.2 330.3 M129.4 323.5 L129.4 330.3" stroke-width="1.2" />
<path d="M122.7 330.3 L135.4 330.3" stroke-width="1.5" />
<path d="M131.8 330.3 L131.8 337.1" stroke-width="1.6" />
<path d="M124.5 333.7 L129 333.7" stroke-width="1.0" />
<path d="M122.7 337.1 L135.4 337.1" stroke-width="1.5" />
<path d="M126.2 337.1 L126.2 343.9 M129.4 337.1 L129.4 343.9" stroke-width="1.2" />
<path d="M122.7 343.9 L135.4 343.9" stroke-width="1.5" />
<path d="M131.8 343.9 L131.8 350.7" stroke-width="1.6" />
<path d="M124.5 347.3 L129 347.3" stroke-width="1.0" />
<path d="M122.7 350.7 L135.4 350.7" stroke-width="1.5" />
<path d="M126.2 350.7 L126.2 357.5 M129.4 350.7 L129.4 357.5" stroke-width="1.2" />
<path d="M122.7 357.5 L135.4 357.5" stroke-width="1.5" />
<path d="M131.8 357.5 L131.8 364.3" stroke-width="1.6" />
<path d="M124.5 360.9 L129 360.9" stroke-width="1.0" />
<path d="M124 262 L134 272 M124 350 L134 342" stroke-width="1.0" />
<rect x="135.5" y="250.4" width="7.4" height="114.4" stroke-width="1.4" fill="#fff"/>
<path d="M137.3 250.4 L137.3 364.8" stroke-width="2.2" />
<path d="M141 250.4 L141 364.8" stroke-width="0.6" />
<path d="M136 263.0 L138 263.0" stroke-width="2.5" />
<path d="M136 288.0 L138 288.0" stroke-width="2.5" />
<path d="M136 303.0 L138 303.0" stroke-width="2.5" />
<path d="M136 318.0 L138 318.0" stroke-width="2.5" />
<path d="M136 345.0 L138 345.0" stroke-width="2.5" />
<rect x="143" y="255.2" width="3.2" height="2.4" rx="0.8" stroke-width="0.9"/>
<rect x="143" y="281.8" width="3.2" height="2.4" rx="0.8" stroke-width="0.9"/>
<rect x="143" y="328.3" width="3.2" height="2.4" rx="0.8" stroke-width="0.9"/>
<rect x="143" y="357.3" width="3.2" height="2.4" rx="0.8" stroke-width="0.9"/>
<path d="M146.5 260.5 L153 260.5 M146.5 358 L153 358" stroke-width="0.7" />
<rect x="96.2" y="353.8" width="9.6" height="12.2" rx="1.8" stroke-width="1.5" fill="#fff"/>
<path d="M96.2 357.2 L105.8 357.2" stroke-width="1.0" />
<path d="M98.6 357.5 L98.6 365.5 M101 357.5 L101 365.5 M103.4 357.5 L103.4 365.5" stroke-width="1.3" />
<path d="M160.20 89.50 C159.92 90.00 159.03 87.80 158.50 92.50 C157.97 97.20 157.58 106.45 157.00 117.70 C156.42 128.95 155.78 141.78 155.00 160.00 C154.22 178.22 152.87 209.67 152.30 227.00 C151.73 244.33 151.72 257.83 151.60 264.00" stroke-width="1.5" />
<path d="M161.50 92.00 C161.03 96.28 159.52 106.37 158.70 117.70 C157.88 129.03 157.40 141.78 156.60 160.00 C155.80 178.22 154.47 210.00 153.90 227.00 C153.33 244.00 153.32 256.17 153.20 262.00" stroke-width="0.55" />
<path d="M160.20 89.50 C160.67 89.75 161.45 89.42 163.00 91.00 C164.55 92.58 167.08 95.67 169.50 99.00 C171.92 102.33 176.17 109.00 177.50 111.00" stroke-width="1.3" />
<path d="M160.50 92.50 C161.67 93.83 165.05 97.17 167.50 100.50 C169.95 103.83 173.92 110.50 175.20 112.50" stroke-width="0.6" />
<path d="M198.80 73.00 L177.00 113.00 L168.50 127.30 L158.80 142.70" stroke-width="1.3" />
<path d="M197.60 78.00 L178.20 114.20 L169.60 128.30 L160.00 144.00 L158.00 170.00" stroke-width="0.55" />
<path d="M198.80 73.00 C198.72 80.45 198.30 103.87 198.30 117.70 C198.30 131.53 198.58 142.53 198.80 156.00 C199.02 169.47 199.15 187.58 199.60 198.50 C200.05 209.42 200.98 211.58 201.50 221.50 C202.02 231.42 202.50 251.92 202.70 258.00" stroke-width="0.9" />
<path d="M167.50 115.80 L171.30 121.50 L167.50 125.40 Z" stroke-width="0.7" />
<path d="M175.20 113.80 C175.03 117.67 174.73 125.97 174.20 137.00 C173.67 148.03 172.37 172.83 172.00 180.00" stroke-width="0.6" />
<path d="M167.50 144.60 L193.50 101.30 L194.40 110.00 L167.90 154.20 Z" stroke-width="0.9" />
<path d="M166.50 158.00 L192.50 117.70 L193.50 124.40 L167.50 164.80 Z" stroke-width="0.9" />
<path d="M193.50 190.00 L193.50 160.00 L191.50 155.20 L167.80 185.50 L165.60 194.60 L163.70 227.30 L160.80 256.00 L156.20 285.00" stroke-width="1.3" />
<path d="M166.60 195.00 L164.70 227.30 L161.80 256.00 L157.30 284.00" stroke-width="2.2" stroke-dasharray="1.5 1.1"/>
<path d="M190.50 159.50 L169.30 186.80 L167.40 195.00 L165.60 227.00 L162.90 256.00 L159.00 279.00" stroke-width="1.0" />
<path d="M171.5 183.0 L168.8 250.0" stroke-width="0.7" />
<path d="M178.0 175.0 L175.2 247.0" stroke-width="0.7" />
<path d="M184.8 166.5 L181.0 244.0" stroke-width="0.7" />
<path d="M187.7 163.0 L183.2 243.0" stroke-width="0.7" />
<path d="M192.5 160.0 L191.5 236.0" stroke-width="0.7" />
<path d="M196.50 165.00 C196.58 170.83 196.58 190.50 197.00 200.00 C197.42 209.50 199.08 216.67 199.00 222.00 C198.92 227.33 196.92 230.33 196.50 232.00" stroke-width="0.6" />
<path d="M199.80 190.00 C199.88 194.17 200.02 209.17 200.30 215.00 C200.58 220.83 201.30 223.33 201.50 225.00" stroke-width="1.3" />
<path d="M166.50 250.40 L187.70 240.80 L193.50 244.60 L195.40 258.00 L164.60 277.30 L156.60 285.50 L152.60 286.60" stroke-width="1.4" />
<circle cx="179" cy="257.7" r="1.7" stroke-width="1.0" fill="#333"/>
<path d="M186 260.5 L189.5 258.7 M169 269.5 L172 267.8" stroke-width="1.6" />
<path d="M184.60 234.60 C185.45 234.38 188.10 232.77 189.70 233.30 C191.30 233.83 193.12 235.98 194.20 237.80 C195.28 239.62 195.57 240.57 196.20 244.20 C196.83 247.83 197.70 257.03 198.00 259.60" stroke-width="2.4" />
<path d="M198.00 259.60 C198.55 260.25 200.15 261.57 201.30 263.50 C202.45 265.43 204.25 266.78 204.90 271.20 C205.55 275.62 205.15 286.87 205.20 290.00" stroke-width="1.2" />
<path d="M154.00 236.00 L157.90 235.00 L157.00 260.00 L153.00 262.00 Z" stroke-width="0.7" />
<path d="M205.5 288 L205.5 540" stroke-width="0.9" />
<path d="M156.5 285 L156.5 342.7" stroke-width="0.8" />
<path d="M193.5 262 L193.5 308" stroke-width="0.8" />
<path d="M197.4 262 L197.4 289" stroke-width="0.8" />
<path d="M153 260.5 L153 286 L156.5 286" stroke-width="0.7" />
<path d="M165.70 382.70 C167.42 378.92 172.45 367.67 176.00 360.00 C179.55 352.33 184.33 343.37 187.00 336.70 C189.67 330.03 190.28 327.98 192.00 320.00 C193.72 312.02 196.42 294.00 197.30 288.80" stroke-width="1.9" />
<path d="M158.80 421.50 C160.32 417.47 165.62 403.38 167.90 397.30 C170.18 391.22 170.48 390.38 172.50 385.00 C174.52 379.62 176.83 373.42 180.00 365.00 C183.17 356.58 188.83 342.33 191.50 334.50 C194.17 326.67 194.67 325.55 196.00 318.00 C197.33 310.45 198.92 294.00 199.50 289.20" stroke-width="1.0" />
<path d="M161.70 423.00 C163.52 419.17 169.80 406.33 172.60 400.00 C175.40 393.67 176.60 390.50 178.50 385.00 C180.40 379.50 181.47 375.33 184.00 367.00 C186.53 358.67 191.28 344.17 193.70 335.00 C196.12 325.83 197.12 319.53 198.50 312.00 C199.88 304.47 201.42 293.50 202.00 289.80" stroke-width="1.2" />
<path d="M175.50 385.00 C174.25 387.83 170.53 395.83 168.00 402.00 C165.47 408.17 161.58 418.67 160.30 422.00" stroke-width="4.2" stroke-dasharray="0.7 1.2"/>
<path d="M197.30 288.80 L202.30 289.80" stroke-width="0.9" />
<path d="M158.80 421.50 L155.50 423.00 L154.50 422.00" stroke-width="0.9" />
<path d="M181.00 294.60 L183.80 294.20 L189.60 311.00 L187.50 313.00 Z" stroke-width="1.2" />
<path d="M158.80 330.20 L164.60 327.30 L174.20 317.70 L185.80 312.00 L189.60 315.80 L178.00 325.40 L168.50 333.00 L160.80 334.00 Z" stroke-width="1.3" />
<path d="M170.50 322.50 L175.50 318.20 L177.00 320.00 L172.00 324.30 Z" stroke-width="0.8" fill="#222"/>
<path d="M163.00 330.00 L176.00 321.50 L186.00 314.50" stroke-width="0.7" />
<path d="M160.80 334.00 L163.00 338.50 L170.00 334.00 L168.50 333.00" stroke-width="0.9" />
<path d="M153.90 342.30 L164.60 382.70 L165.70 382.70" stroke-width="2.1" />
<path d="M158.40 340.60 L166.80 378.20" stroke-width="1.4" />
<path d="M153.90 342.30 L156.00 339.80 L158.40 340.60" stroke-width="1.0" />
<path d="M154.00 342.00 C153.67 342.88 152.47 342.97 152.00 347.30 C151.53 351.63 151.20 360.55 151.20 368.00 C151.20 375.45 151.53 383.00 152.00 392.00 C152.47 401.00 153.83 412.83 154.00 422.00 C154.17 431.17 152.90 435.67 153.00 447.00 C153.10 458.33 154.07 476.83 154.60 490.00 C155.13 503.17 155.55 517.08 156.20 526.00 C156.85 534.92 158.12 540.58 158.50 543.50" stroke-width="0.9" />
<path d="M164.6 341.2 L172.4 379.3" stroke-width="0.7" />
<path d="M167.9 336.7 L175.8 372.6" stroke-width="0.7" />
<path d="M172.4 334.5 L179.1 363.6" stroke-width="0.7" />
<path d="M151.70 362.50 L157.80 358.00 L157.80 374.80 L151.70 380.40" stroke-width="0.8" />
<path d="M204.00 344.00 L189.70 354.50 L193.00 384.00 L177.00 390.50" stroke-width="0.8" />
<path d="M204.00 344.00 C203.62 350.67 202.37 371.33 201.70 384.00 C201.03 396.67 200.57 412.72 200.00 420.00 C199.43 427.28 198.75 420.65 198.30 427.70 C197.85 434.75 197.48 453.58 197.30 462.30 C197.12 471.02 197.13 473.22 197.20 480.00 C197.27 486.78 197.32 494.73 197.70 503.00 C198.08 511.27 199.20 525.17 199.50 529.60" stroke-width="0.9" />
<path d="M172.00 377.00 C172.67 378.50 173.67 384.67 176.00 386.00 C178.33 387.33 183.67 386.33 186.00 385.00 C188.33 383.67 189.33 379.17 190.00 378.00" stroke-width="0.8" />
<path d="M161.70 423.80 C162.03 427.67 163.05 439.97 163.70 447.00 C164.35 454.03 164.97 461.53 165.60 466.00 C166.23 470.47 166.07 471.92 167.50 473.80 C168.93 475.68 170.83 477.13 174.20 477.30 C177.57 477.47 184.82 476.02 187.70 474.80 C190.58 473.58 190.70 474.63 191.50 470.00 C192.30 465.37 192.02 454.70 192.50 447.00 C192.98 439.30 193.77 433.47 194.40 423.80 C195.03 414.13 195.98 394.80 196.30 389.00" stroke-width="1.4" />
<path d="M163.50 424.00 C163.83 427.83 164.85 440.08 165.50 447.00 C166.15 453.92 166.82 461.32 167.40 465.50 C167.98 469.68 167.82 470.47 169.00 472.10 C170.18 473.73 171.50 475.15 174.50 475.30 C177.50 475.45 184.45 473.97 187.00 473.00 C189.55 472.03 189.17 473.83 189.80 469.50 C190.43 465.17 190.32 454.62 190.80 447.00 C191.28 439.38 192.38 427.67 192.70 423.80" stroke-width="0.8" />
<path d="M168.0 400.0 L169.4 475.0" stroke-width="0.7" />
<path d="M172.5 392.0 L173.3 476.5" stroke-width="0.7" />
<path d="M178.0 390.0 L178.0 477.0" stroke-width="0.7" />
<path d="M181.0 390.0 L181.0 476.5" stroke-width="0.7" />
<path d="M185.8 388.0 L185.8 475.5" stroke-width="0.7" />
<path d="M188.7 386.0 L188.7 474.0" stroke-width="0.7" />
<path d="M194.40 389.00 L198.30 387.00 L198.30 422.00 L195.40 423.80 Z" stroke-width="0.6" />
<path d="M170.40 477.70 C170.55 479.75 170.98 483.85 171.30 490.00 C171.62 496.15 171.55 504.80 172.30 514.60 C173.05 524.40 175.22 543.10 175.80 548.80" stroke-width="0.7" />
<path d="M158.50 543.50 C159.25 544.00 160.70 545.62 163.00 546.50 C165.30 547.38 168.83 548.55 172.30 548.80 C175.77 549.05 180.68 548.72 183.80 548.00 C186.92 547.28 189.07 545.83 191.00 544.50 C192.93 543.17 193.98 542.48 195.40 540.00 C196.82 537.52 198.82 531.33 199.50 529.60" stroke-width="1.25" />
<path d="M158.30 540.50 C159.25 541.00 161.55 542.58 164.00 543.50 C166.45 544.42 169.83 545.75 173.00 546.00 C176.17 546.25 180.17 545.75 183.00 545.00 C185.83 544.25 188.17 542.83 190.00 541.50 C191.83 540.17 192.75 539.25 194.00 537.00 C195.25 534.75 196.92 529.50 197.50 528.00" stroke-width="0.5" />
<path d="M165.8 504.7 Q180 508 192 501.5 L192 508.8 Q180 515.3 165.8 512.3 Z" stroke-width="0.9" />
<path d="M166.5 514.6 Q181 517.7 193 511.2 L193 522.7 Q181 529.8 166.5 527.3 Z" stroke-width="0.9" />
<path d="M84 308.2 L210.8 308.2" stroke-width="0.65" stroke-dasharray="16 3 4 3"/>
<path d="M117.50 31.30 L117.50 245.00" stroke-width="1.0" stroke="#2a2a2a" />
<path d="M202.50 31.30 L202.50 258.00" stroke-width="1.0" stroke="#2a2a2a" />
<path d="M151.50 51.00 L151.50 264.00" stroke-width="1.0" stroke="#2a2a2a" />
<path d="M117.40 34.50 L202.50 34.50" stroke-width="1.0" stroke="#2a2a2a" />
<path d="M117.40 34.50 L127.70 32.75 L127.70 36.25 Z" fill="#000" stroke="none"/>
<path d="M202.50 34.50 L192.20 36.25 L192.20 32.75 Z" fill="#000" stroke="none"/>
<path d="M151.20 53.50 L202.50 53.50" stroke-width="1.0" stroke="#2a2a2a" />
<path d="M151.20 53.50 L161.50 51.75 L161.50 55.25 Z" fill="#000" stroke="none"/>
<path d="M202.50 53.50 L192.20 55.25 L192.20 51.75 Z" fill="#000" stroke="none"/>
<text x="144.10" y="31.60" font-size="13.5" text-anchor="start" font-weight="normal" stroke="#000" stroke-width="0.6" textLength="17.7" lengthAdjust="spacingAndGlyphs">175</text>
<text x="164.70" y="31.60" font-size="10.6" text-anchor="start" font-weight="normal" stroke="#000" stroke-width="0.55" textLength="9.6" lengthAdjust="spacingAndGlyphs">&#177;3</text>
<text x="163.20" y="50.90" font-size="13.5" text-anchor="start" font-weight="normal" stroke="#000" stroke-width="0.6" textLength="17.4" lengthAdjust="spacingAndGlyphs">106</text>
<text x="182.60" y="50.90" font-size="10.6" text-anchor="start" font-weight="normal" stroke="#000" stroke-width="0.55" textLength="9.3" lengthAdjust="spacingAndGlyphs">&#177;2</text>
<path d="M74.60 166.50 L133.00 166.50" stroke-width="1.0" stroke="#2a2a2a" />
<path d="M89.40 166.50 L79.10 168.25 L79.10 164.75 Z" fill="#000" stroke="none"/>
<path d="M117.40 166.50 L127.70 164.75 L127.70 168.25 Z" fill="#000" stroke="none"/>
<text x="94.00" y="164.00" font-size="13.5" text-anchor="start" font-weight="normal" stroke="#000" stroke-width="0.6" textLength="21.3" lengthAdjust="spacingAndGlyphs">57.5</text>
<path d="M89.50 164.40 L89.50 432.00 M89.50 439.00 L89.50 576.00" stroke-width="1.0" stroke="#2a2a2a" />
<path d="M62.00 252.50 L90.00 252.50" stroke-width="1.0" stroke="#2a2a2a" />
<path d="M65.50 252.30 L65.50 336.50" stroke-width="1.0" stroke="#2a2a2a" />
<path d="M65.50 252.60 L67.25 262.90 L63.75 262.90 Z" fill="#000" stroke="none"/>
<text x="63.30" y="318.30" font-size="13.5" text-anchor="start" font-weight="normal" stroke="#000" stroke-width="0.6" textLength="26.3" lengthAdjust="spacingAndGlyphs" transform="rotate(-90 63.30 318.30)">&#216;232</text>
<path d="M230.50 162.40 L230.50 549.50" stroke-width="1.0" stroke="#2a2a2a" />
<path d="M230.50 549.50 L228.75 539.20 L232.25 539.20 Z" fill="#000" stroke="none"/>
<path d="M175.80 549.50 L233.50 549.50" stroke-width="1.0" stroke="#2a2a2a" />
<text x="227.80" y="327.90" font-size="13.5" text-anchor="start" font-weight="normal" stroke="#000" stroke-width="0.6" textLength="27.2" lengthAdjust="spacingAndGlyphs" transform="rotate(-90 227.80 327.90)">&#216;990</text>
<text x="227.80" y="297.60" font-size="10.6" text-anchor="start" font-weight="normal" stroke="#000" stroke-width="0.55" textLength="9.6" lengthAdjust="spacingAndGlyphs" transform="rotate(-90 227.80 297.60)">&#177;2</text>
<path d="M205.50 540.00 L205.50 576.00" stroke-width="1.0" stroke="#2a2a2a" />
<path d="M89.50 574.50 L205.50 574.50" stroke-width="1.0" stroke="#2a2a2a" />
<path d="M89.50 574.50 L99.80 572.75 L99.80 576.25 Z" fill="#000" stroke="none"/>
<path d="M205.50 574.50 L195.20 576.25 L195.20 572.75 Z" fill="#000" stroke="none"/>
<text x="147.40" y="571.60" font-size="13.5" text-anchor="middle" font-weight="normal" stroke="#000" stroke-width="0.6" textLength="18.6" lengthAdjust="spacingAndGlyphs">239</text>
<circle cx="158.9" cy="589.7" r="7.6" stroke-width="1.0" stroke="#222"/>
<path d="M156.6 588.2 L159.7 584.9 L159.7 594.6" stroke-width="1.7" />
<path d="M141.20 603.50 L170.00 603.50" stroke-width="1.0" stroke="#2a2a2a" />
<path d="M141.20 603.50 L154.20 602.00 L154.20 605.00 Z" fill="#000" stroke="none"/>
<text x="3.20" y="423.80" font-size="13.5" text-anchor="start" font-weight="normal" stroke="#000" stroke-width="0.6" textLength="64.7" lengthAdjust="spacingAndGlyphs">M20x1.5 (3x)</text>
<path d="M1.80 429.50 L74.90 429.50 L96.10 365.60" stroke-width="1.0" stroke="#2a2a2a" />
<path d="M97.50 366.50 L97.50 430.80 M103.50 366.50 L103.50 430.80" stroke-width="1.0" stroke="#2a2a2a" />
<path d="M82.90 428.50 L129.60 428.50" stroke-width="1.0" stroke="#2a2a2a" />
<path d="M97.50 428.50 L87.20 430.25 L87.20 426.75 Z" fill="#000" stroke="none"/>
<path d="M103.70 428.50 L114.00 426.75 L114.00 430.25 Z" fill="#000" stroke="none"/>
<circle cx="123.4" cy="418.1" r="7.5" stroke-width="1.0" stroke="#222"/>
<text x="123.40" y="422.90" font-size="13.5" text-anchor="middle" font-weight="normal" stroke="#000" stroke-width="0.55" textLength="6.4" lengthAdjust="spacingAndGlyphs">3</text>
</g>
</svg></body></html>
